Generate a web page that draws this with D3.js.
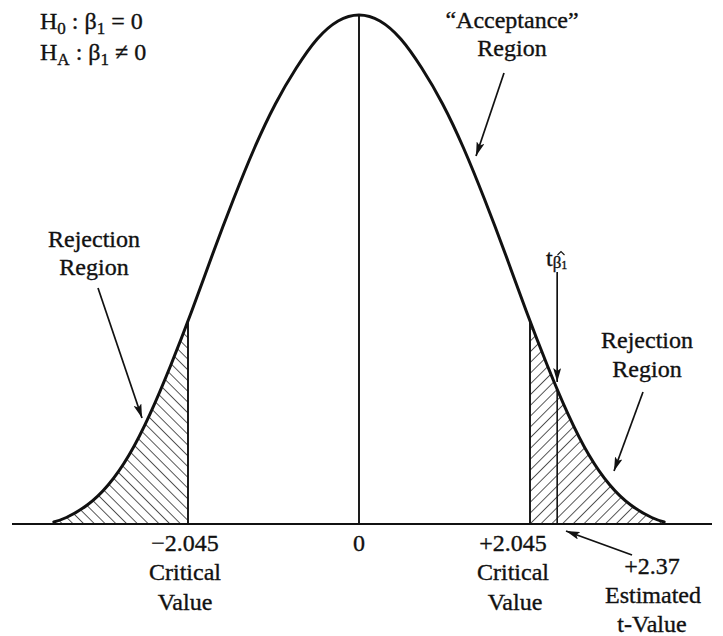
<!DOCTYPE html>
<html>
<head>
<meta charset="utf-8">
<script src="https://cdn.jsdelivr.net/npm/d3@7/dist/d3.min.js"></script>
<style>
  html, body { margin: 0; padding: 0; background: #fff; }
  svg text { font-family: "Liberation Serif", "Times New Roman", serif; fill: #111; stroke: #111; stroke-width: 0.35px; }
</style>
</head>
<body>
<svg id="chart" width="723" height="636"></svg>
<script>
// ---- data ----
const curveT       = [-3.65, -3.5, -3.25, -3.0, -2.75, -2.5, -2.25, -2.0, -1.75, -1.5, -1.25, -1.0, -0.75, -0.5, -0.25, 0,
                      0.25, 0.5, 0.75, 1.0, 1.25, 1.5, 1.75, 2.0, 2.25, 2.5, 2.75, 3.0, 3.25, 3.5, 3.65];
const curveDensity = [0.0016, 0.0051, 0.0149, 0.0306, 0.0542, 0.0864, 0.1250, 0.1674, 0.2122, 0.2554, 0.2955, 0.3301, 0.3583, 0.3811, 0.3953, 0.400,
                      0.3953, 0.3811, 0.3583, 0.3301, 0.2955, 0.2554, 0.2122, 0.1674, 0.1250, 0.0864, 0.0542, 0.0306, 0.0149, 0.0051, 0.0016];
const criticalValues = [-2.045, 2.045];
const criticalDensity = 0.1595;
const estimatedT = 2.37;
const estimatedDensity = 0.1065;
const peakDensity = 0.400;
const tickLabels = ["\u22122.045", "0", "+2.045"];
const tickValues = [-2.045, 0, 2.045];

const svg = d3.select("#chart");
const x = d3.scaleLinear().domain([-2.045, 2.045]).range([188, 530]);
const y = d3.scaleLinear().domain([0, 0.4]).range([524, 15]);
const pts = curveT.map((t, i) => [t, curveDensity[i]]);
const curveType = d3.curveNatural;

const defs = svg.append("defs");
function hatch(id, angle) {
  const p = defs.append("pattern").attr("id", id).attr("patternUnits", "userSpaceOnUse")
    .attr("width", 7.6).attr("height", 8).attr("patternTransform", `rotate(${angle})`);
  p.append("line").attr("x1", 0).attr("y1", -2).attr("x2", 0).attr("y2", 10)
    .attr("stroke", "#111").attr("stroke-width", 1.4);
}
hatch("hatchL", -45);
hatch("hatchR", 45);
const mk = defs.append("marker").attr("id", "arrow").attr("viewBox", "0 0 14 8")
  .attr("refX", 14).attr("refY", 4).attr("markerWidth", 14).attr("markerHeight", 8)
  .attr("markerUnits", "userSpaceOnUse").attr("orient", "auto");
mk.append("path").attr("d", "M0,0 L14,4 L0,8 L3,4 Z").attr("fill", "#111");

defs.append("clipPath").attr("id", "clipL").append("rect")
  .attr("x", 0).attr("y", 0).attr("width", x(criticalValues[0])).attr("height", y(0));
defs.append("clipPath").attr("id", "clipR").append("rect")
  .attr("x", x(criticalValues[1])).attr("y", 0).attr("width", 723 - x(criticalValues[1])).attr("height", y(0));

const area = d3.area().x(d => x(d[0])).y0(y(0)).y1(d => y(d[1])).curve(curveType);
svg.append("path").datum(pts).attr("d", area).attr("fill", "url(#hatchL)").attr("clip-path", "url(#clipL)");
svg.append("path").datum(pts).attr("d", area).attr("fill", "url(#hatchR)").attr("clip-path", "url(#clipR)");

// vertical lines
criticalValues.forEach(c => {
  svg.append("line").attr("x1", x(c)).attr("x2", x(c)).attr("y1", y(criticalDensity)).attr("y2", y(0))
    .attr("stroke", "#111").attr("stroke-width", 1.9);
});
svg.append("line").attr("x1", x(0)).attr("x2", x(0)).attr("y1", y(peakDensity)).attr("y2", y(0))
  .attr("stroke", "#111").attr("stroke-width", 1.9);
svg.append("line").attr("x1", x(estimatedT)).attr("x2", x(estimatedT)).attr("y1", y(estimatedDensity)).attr("y2", y(0))
  .attr("stroke", "#111").attr("stroke-width", 1.6);

// curve
const line = d3.line().x(d => x(d[0])).y(d => y(d[1])).curve(curveType);
svg.append("path").datum(pts).attr("d", line).attr("fill", "none").attr("stroke", "#111")
  .attr("stroke-width", 3).attr("stroke-linecap", "round");

// baseline axis
svg.append("line").attr("x1", 12).attr("x2", 712).attr("y1", y(0)).attr("y2", y(0))
  .attr("stroke", "#111").attr("stroke-width", 2);

// arrows
function arrow(x1, y1, x2, y2) {
  svg.append("line").attr("x1", x1).attr("y1", y1).attr("x2", x2).attr("y2", y2)
    .attr("stroke", "#111").attr("stroke-width", 1.7).attr("marker-end", "url(#arrow)");
}
arrow(504, 73, 476, 156);
arrow(98, 288, 142, 418);
arrow(643, 392, 614, 471);
arrow(x(estimatedT), 272, x(estimatedT), 382);
arrow(632, 555, 566, 531);

// text
function txt(s, cx, by, anchor) {
  return svg.append("text").attr("x", cx).attr("y", by).attr("text-anchor", anchor || "middle")
    .attr("font-size", 24).text(s);
}
txt("\u201CAcceptance\u201D", 512, 28);
txt("Region", 512, 56);
txt("Rejection", 94, 247);
txt("Region", 94, 275);
txt("Rejection", 647, 348);
txt("Region", 647, 377);

const labelOffsets = [-3, 0, -17];
tickValues.forEach((v, i) => {
  txt(tickLabels[i], x(v) + labelOffsets[i], 551);
});
txt("Critical", x(-2.045) - 3, 580);
txt("Value", x(-2.045) - 3, 610);
txt("Critical", x(2.045) - 17, 580);
txt("Value", x(2.045) - 15, 610);
txt("+2.37", 652, 574);
txt("Estimated", 653, 603);
txt("t-Value", 652, 632);

// hypotheses
function hyp(by, sub, rel) {
  const t = svg.append("text").attr("x", 40).attr("y", by).attr("font-size", 24);
  t.append("tspan").text("H");
  t.append("tspan").attr("font-size", 17).attr("dy", 5).text(sub);
  t.append("tspan").attr("dy", -5).text(" : \u03B2");
  t.append("tspan").attr("font-size", 17).attr("dy", 5).text("1");
  t.append("tspan").attr("dy", -5).text(" " + rel + " 0");
}
hyp(29, "0", "=");
hyp(60, "A", "\u2260");

// t-hat-beta label
const tl = svg.append("text").attr("x", 546).attr("y", 266).attr("font-size", 24);
tl.append("tspan").text("t");
tl.append("tspan").attr("font-size", 17).attr("dy", 2).text("\u03B2");
tl.append("tspan").attr("font-size", 12).attr("dy", 1).text("1");
// circumflex over beta (drawn as a small mark)
svg.append("path").attr("d", "M557.5,255 L561,251.5 L564.5,255")
  .attr("fill", "none").attr("stroke", "#111").attr("stroke-width", 1.1);
</script>
</body>
</html>
